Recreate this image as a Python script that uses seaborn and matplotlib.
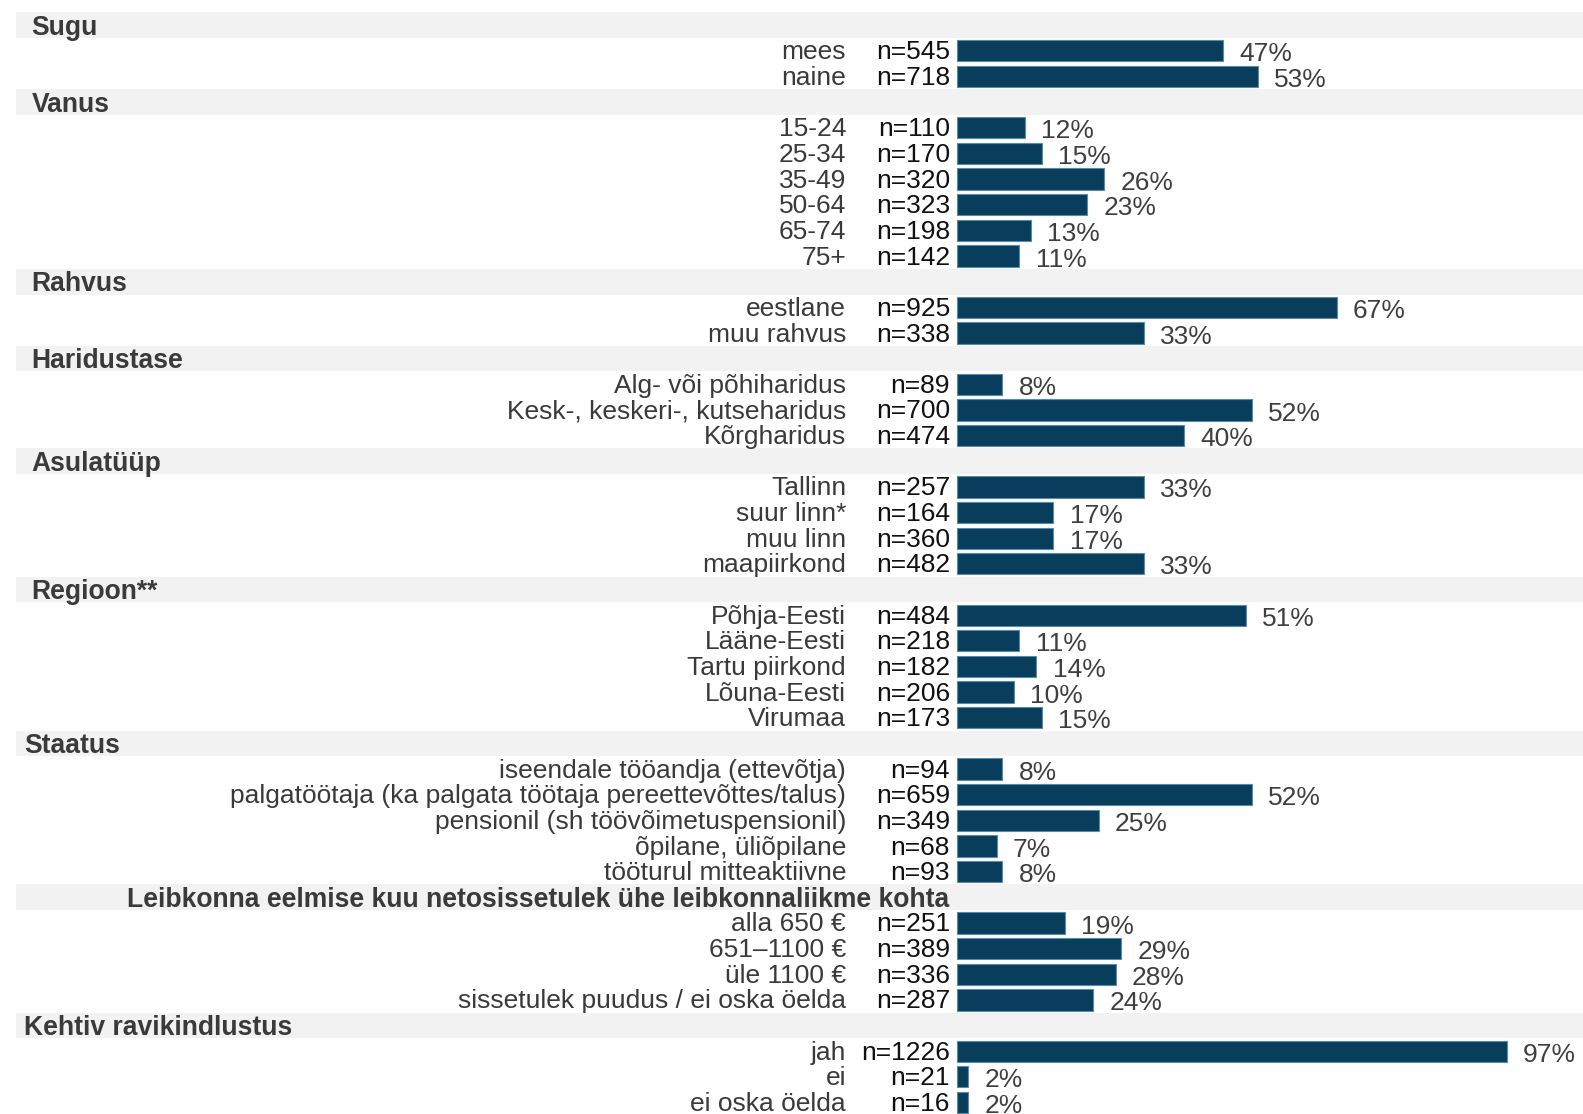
import numpy as np
import pandas as pd
import matplotlib
matplotlib.use("Agg")
import matplotlib.pyplot as plt
import seaborn as sns

# ---- data ----
groups = ["Sugu", "Vanus", "Rahvus", "Haridustase", "Asulatüüp", "Regioon**",
          "Staatus", "Leibkonna eelmise kuu netosissetulek ühe leibkonnaliikme kohta",
          "Kehtiv ravikindlustus"]
cat_sugu = ["mees", "naine"]
n_sugu = [545, 718]
pct_sugu = [47, 53]
cat_vanus = ["15-24", "25-34", "35-49", "50-64", "65-74", "75+"]
n_vanus = [110, 170, 320, 323, 198, 142]
pct_vanus = [12, 15, 26, 23, 13, 11]
cat_rahvus = ["eestlane", "muu rahvus"]
n_rahvus = [925, 338]
pct_rahvus = [67, 33]
cat_haridus = ["Alg- või põhiharidus", "Kesk-, keskeri-, kutseharidus", "Kõrgharidus"]
n_haridus = [89, 700, 474]
pct_haridus = [8, 52, 40]
cat_asula = ["Tallinn", "suur linn*", "muu linn", "maapiirkond"]
n_asula = [257, 164, 360, 482]
pct_asula = [33, 17, 17, 33]
cat_regioon = ["Põhja-Eesti", "Lääne-Eesti", "Tartu piirkond", "Lõuna-Eesti", "Virumaa"]
n_regioon = [484, 218, 182, 206, 173]
pct_regioon = [51, 11, 14, 10, 15]
cat_staatus = ["iseendale tööandja (ettevõtja)",
               "palgatöötaja (ka palgata töötaja pereettevõttes/talus)",
               "pensionil (sh töövõimetuspensionil)", "õpilane, üliõpilane",
               "tööturul mitteaktiivne"]
n_staatus = [94, 659, 349, 68, 93]
pct_staatus = [8, 52, 25, 7, 8]
cat_sissetulek = ["alla 650 €", "651–1100 €", "üle 1100 €", "sissetulek puudus / ei oska öelda"]
n_sissetulek = [251, 389, 336, 287]
pct_sissetulek = [19, 29, 28, 24]
cat_ravi = ["jah", "ei", "ei oska öelda"]
n_ravi = [1226, 21, 16]
pct_ravi = [97, 2, 2]

blocks = [
    (cat_sugu, n_sugu, pct_sugu),
    (cat_vanus, n_vanus, pct_vanus),
    (cat_rahvus, n_rahvus, pct_rahvus),
    (cat_haridus, n_haridus, pct_haridus),
    (cat_asula, n_asula, pct_asula),
    (cat_regioon, n_regioon, pct_regioon),
    (cat_staatus, n_staatus, pct_staatus),
    (cat_sissetulek, n_sissetulek, pct_sissetulek),
    (cat_ravi, n_ravi, pct_ravi),
]

# ---- build rows ----
rows = []
headers = []
pos = 0
for g, (cats, ns, pcts) in zip(groups, blocks):
    headers.append((g, pos))
    pos += 1
    for c, n, p in zip(cats, ns, pcts):
        rows.append(dict(label=c, n=n, pct=p, pos=pos))
        pos += 1
df = pd.DataFrame(rows)

# ---- style ----
sns.set_theme(style="white")
plt.rcParams["font.family"] = ["Liberation Sans", "DejaVu Sans"]

W, H = 1583, 1114
fig = plt.figure(figsize=(W / 100, H / 100), dpi=100)
ax = fig.add_axes([0, 0, 1, 1])

bar_color = "#083d5b"
edge_color = "#5b8aa6"
x0_px = 957.0
px_per_pct = 5.67
row_px = 25.65
row0_px = 25.2

sns.barplot(data=df, x="pct", y="pos", orient="h", native_scale=True,
            width=0.83, color=bar_color, edgecolor=edge_color, linewidth=0.8,
            errorbar=None, saturation=1, ax=ax)

xmin = -x0_px / px_per_pct
xmax = (W - x0_px) / px_per_pct
ax.set_xlim(xmin, xmax)
ax.set_ylim((H - row0_px) / row_px, -row0_px / row_px)
ax.axis("off")

fs = 19.0
fs_head = 19.1
label_col = "#3a3a3a"
n_col = "#111111"
pct_col = "#3f3f3f"
head_col = "#3a3a3a"

def px2x(px):
    return (px - x0_px) / px_per_pct

band_left = 16.2 / W
for g, p in headers:
    ax.axhspan(p - 0.5, p + 0.5, xmin=band_left, xmax=1.0, color="#f2f2f2", zorder=0, lw=0)
    ty = p + 0.1
    if g.startswith("Leibkonna"):
        ax.text(px2x(949), ty, g, ha="right", va="center", fontsize=fs_head, fontweight="bold", color=head_col)
    elif g in ("Staatus", "Kehtiv ravikindlustus"):
        ax.text(px2x(24.5), ty, g, ha="left", va="center", fontsize=fs_head, fontweight="bold", color=head_col)
    else:
        ax.text(px2x(31.5), ty, g, ha="left", va="center", fontsize=fs_head, fontweight="bold", color=head_col)

for r in df.itertuples():
    ax.text(px2x(846), r.pos + 0.06, r.label, ha="right", va="center", fontsize=fs, color=label_col)
    ax.text(px2x(950), r.pos + 0.06, f"n={r.n}", ha="right", va="center", fontsize=fs, color=n_col)
    ax.text(r.pct + 16.2 / px_per_pct, r.pos + 0.14, f"{r.pct}%", ha="left", va="center",
            fontsize=fs, color=pct_col)

fig.savefig("out.png", dpi=100)
